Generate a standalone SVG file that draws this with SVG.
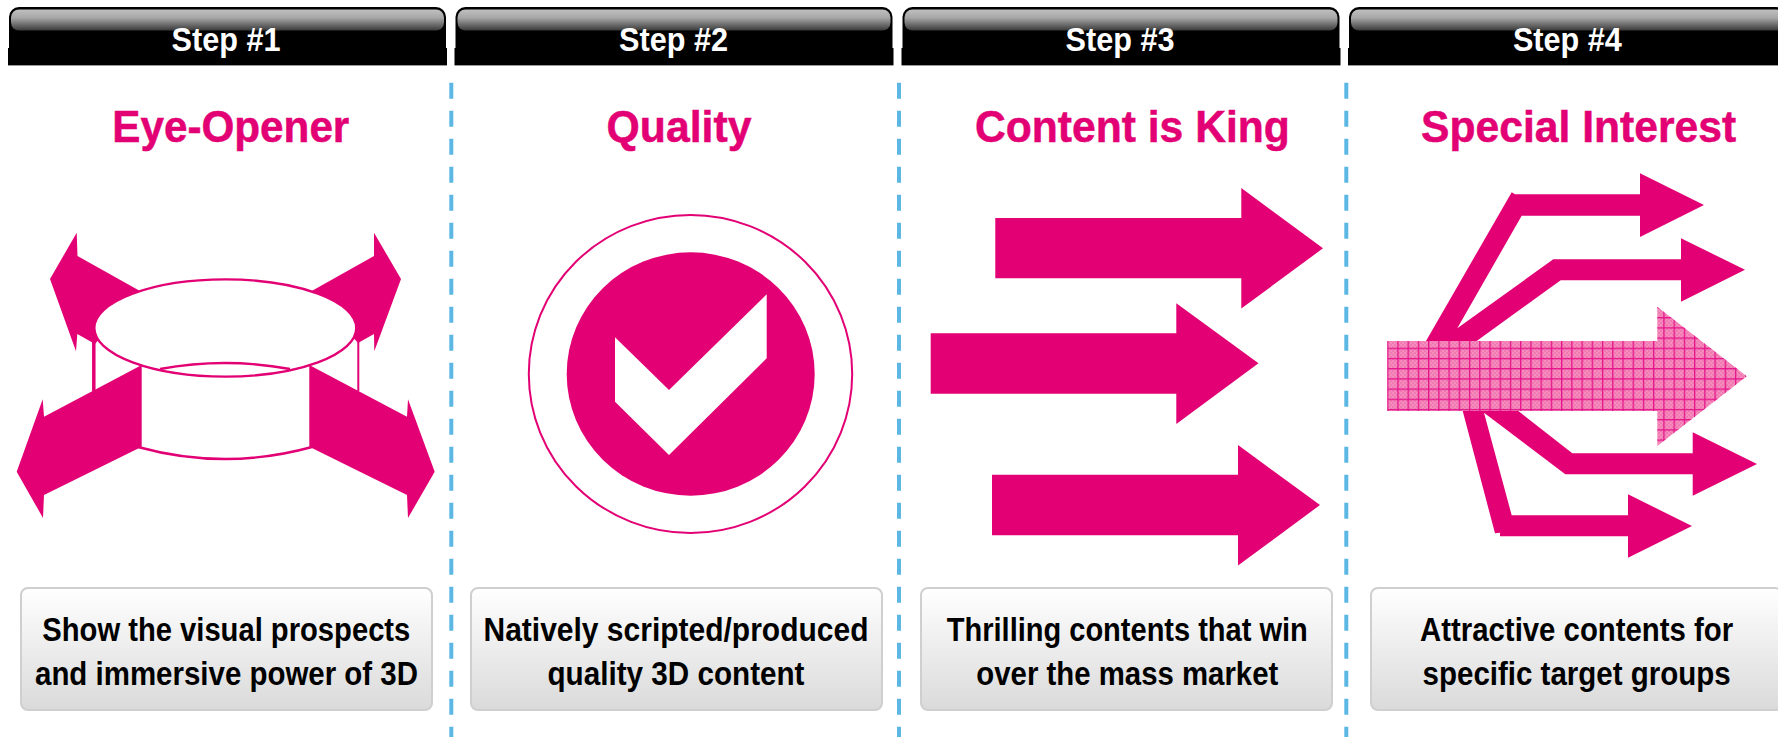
<svg xmlns="http://www.w3.org/2000/svg" width="1778" height="737" viewBox="0 0 1778 737">
<style>
.m{fill:#e20074}
.ln{fill:none;stroke:#e20074;stroke-width:2.4}
.step{font:bold 33px "Liberation Sans",Arial,sans-serif;fill:#fff;text-anchor:middle}
.title{font:bold 44px "Liberation Sans",Arial,sans-serif;fill:#e20074;text-anchor:middle;stroke:#e20074;stroke-width:.5}
.desc{font:bold 34px "Liberation Sans",Arial,sans-serif;fill:#000;text-anchor:middle}
.box{fill:url(#boxg);stroke:#cfcfcf;stroke-width:2}
.dash{stroke:#5db7e4;stroke-width:4;stroke-dasharray:16 12}
</style>
<defs>
<linearGradient id="gloss" x1="0" y1="0" x2="0" y2="1"><stop offset="0" stop-color="#c0c0c0"/><stop offset="0.4" stop-color="#a6a6a6"/><stop offset="1" stop-color="#3a3a3a"/></linearGradient>
<linearGradient id="boxg" x1="0" y1="0" x2="0" y2="1"><stop offset="0" stop-color="#fff"/><stop offset="1" stop-color="#dadada"/></linearGradient>
<pattern id="dither" width="4" height="4" patternUnits="userSpaceOnUse"><rect width="4" height="4" fill="#f07ab1"/><rect width="2" height="2" fill="#f48dbd"/><rect x="2" y="2" width="2" height="2" fill="#f48dbd"/></pattern>
<pattern id="grid" x="1387.1" y="337.5" width="10.23" height="10.2" patternUnits="userSpaceOnUse"><rect width="1.3" height="10.2" fill="#e5128a"/><rect width="10.23" height="1.3" fill="#e5128a"/></pattern>
<g id="hdr"><path d="M1,45 V10 A10,10 0 0 1 11,0 H428 A10,10 0 0 1 438,10 V45 Z" fill="#000"/><rect x="0" y="41" width="439" height="17" fill="#000"/><rect x="0" y="58" width="439" height="1" fill="#9a9a9a"/><rect x="3" y="2.5" width="433" height="21" rx="8" fill="url(#gloss)"/></g>
</defs>
<rect width="1778" height="737" fill="#fff"/>

<g id="dividers">
<line class="dash" x1="451.3" y1="82.7" x2="451.3" y2="737"/>
<line class="dash" x1="899" y1="82.7" x2="899" y2="737"/>
<line class="dash" x1="1346.3" y1="82.7" x2="1346.3" y2="737"/>
</g>

<g id="step1">
<use href="#hdr" x="8" y="7"/>
<text class="step" x="226" y="50.7" textLength="109" lengthAdjust="spacingAndGlyphs">Step #1</text>
<text class="title" x="230.8" y="141.7" textLength="237" lengthAdjust="spacingAndGlyphs">Eye-Opener</text>
<g id="eye-opener-icon">
<polygon class="m" points="76.7,232.7 50,279 76,351.3 77.3,334 95,344 140,291 77.5,256"/>
<polygon class="m" points="374,232.7 401,279 374.3,351.3 374,334 358,343 311.7,291 374,256"/>
<line x1="93.8" y1="329" x2="93.8" y2="391" stroke="#e20074" stroke-width="3.5"/>
<line x1="358.3" y1="335" x2="358.3" y2="391" stroke="#e20074" stroke-width="2"/>
<polygon class="m" points="16.7,471.7 42.7,399.3 44,416.7 141.7,365 141.7,446.7 44,495 43,518"/>
<polygon class="m" points="434.7,471.7 408,399.3 407,416.7 309.3,365 309.3,446.7 407,495 408,518"/>
<ellipse class="ln" cx="225.3" cy="328" rx="131" ry="48.6" style="fill:#fff"/>
<path class="ln" d="M160,369 Q225,357 290,369"/>
<path class="ln" d="M138,447 Q225,471 312,447"/>
</g>
<rect class="box" x="21" y="588" width="411" height="122" rx="7"/>
<text class="desc" x="226.3" y="640.7" textLength="368" lengthAdjust="spacingAndGlyphs">Show the visual prospects</text>
<text class="desc" x="226.5" y="685" textLength="383" lengthAdjust="spacingAndGlyphs">and immersive power of 3D</text>
</g>

<g id="step2">
<use href="#hdr" x="454.5" y="7"/>
<text class="step" x="673.6" y="50.7" textLength="109" lengthAdjust="spacingAndGlyphs">Step #2</text>
<text class="title" x="679" y="141.7" textLength="145" lengthAdjust="spacingAndGlyphs">Quality</text>
<g id="quality-icon">
<ellipse cx="690.5" cy="374" rx="161.7" ry="159" fill="none" stroke="#e20074" stroke-width="2"/>
<ellipse class="m" cx="690.7" cy="374" rx="124" ry="121.7"/>
<polygon fill="#fff" points="615,337.3 669,390 766.7,294.3 766.7,358.3 669,455 615,401.7"/>
</g>
<rect class="box" x="471" y="588" width="411" height="122" rx="7"/>
<text class="desc" x="676" y="640.7" textLength="385" lengthAdjust="spacingAndGlyphs">Natively scripted/produced</text>
<text class="desc" x="676" y="685" textLength="257" lengthAdjust="spacingAndGlyphs">quality 3D content</text>
</g>

<g id="step3">
<use href="#hdr" x="901.5" y="7"/>
<text class="step" x="1120" y="50.7" textLength="109" lengthAdjust="spacingAndGlyphs">Step #3</text>
<text class="title" x="1132.4" y="141.7" textLength="315" lengthAdjust="spacingAndGlyphs">Content is King</text>
<g id="content-icon">
<polygon class="m" points="995.3,218 1241.3,218 1241.3,188 1323,248.3 1241.3,308.5 1241.3,278.3 995.3,278.3"/>
<polygon class="m" points="930.7,333.3 1176.3,333.3 1176.3,303.3 1258.5,363.3 1176.3,424 1176.3,393.7 930.7,393.7"/>
<polygon class="m" points="992,474.7 1238,474.7 1238,445 1320,505 1238,565.5 1238,535.3 992,535.3"/>
</g>
<rect class="box" x="921" y="588" width="411" height="122" rx="7"/>
<text class="desc" x="1127.3" y="640.7" textLength="361" lengthAdjust="spacingAndGlyphs">Thrilling contents that win</text>
<text class="desc" x="1127.3" y="685" textLength="302" lengthAdjust="spacingAndGlyphs">over the mass market</text>
</g>

<g id="step4">
<use href="#hdr" x="1348" y="7"/>
<text class="step" x="1567.4" y="50.7" textLength="109" lengthAdjust="spacingAndGlyphs">Step #4</text>
<text class="title" x="1578.6" y="141.7" textLength="315" lengthAdjust="spacingAndGlyphs">Special Interest</text>
<g id="interest-icon">
<polygon class="m" points="1426,341 1511.7,192.3 1515,194.3 1640,194.3 1640,173.3 1704,205 1640,237 1640,215.7 1521.7,215.7 1457.3,328.3 1553.3,259.3 1681,259.3 1681,238.3 1745,269.7 1681,301.7 1681,280.3 1560.7,280.3 1476.7,341"/>
<polygon class="m" points="1518.3,411 1572.3,453.3 1692.7,453.3 1692.7,432.3 1757,464 1692.7,495.7 1692.7,474.3 1565.3,474.3 1484,412.7 1511.7,515.3 1628,515.3 1628,494.3 1692,526 1628,557.7 1628,536.3 1500,536.3 1500,532.7 1495,533.3 1462.7,411"/>
<polygon fill="url(#dither)" points="1387.3,341 1657.3,341 1657.3,306.7 1746.7,376.3 1657.3,446 1657.3,411 1387.3,411"/>
<polygon fill="url(#grid)" points="1387.3,341 1657.3,341 1657.3,306.7 1746.7,376.3 1657.3,446 1657.3,411 1387.3,411"/>
</g>
<rect class="box" x="1371" y="588" width="411" height="122" rx="7"/>
<text class="desc" x="1576.6" y="640.7" textLength="313" lengthAdjust="spacingAndGlyphs">Attractive contents for</text>
<text class="desc" x="1576.6" y="685" textLength="308" lengthAdjust="spacingAndGlyphs">specific target groups</text>
</g>
</svg>
